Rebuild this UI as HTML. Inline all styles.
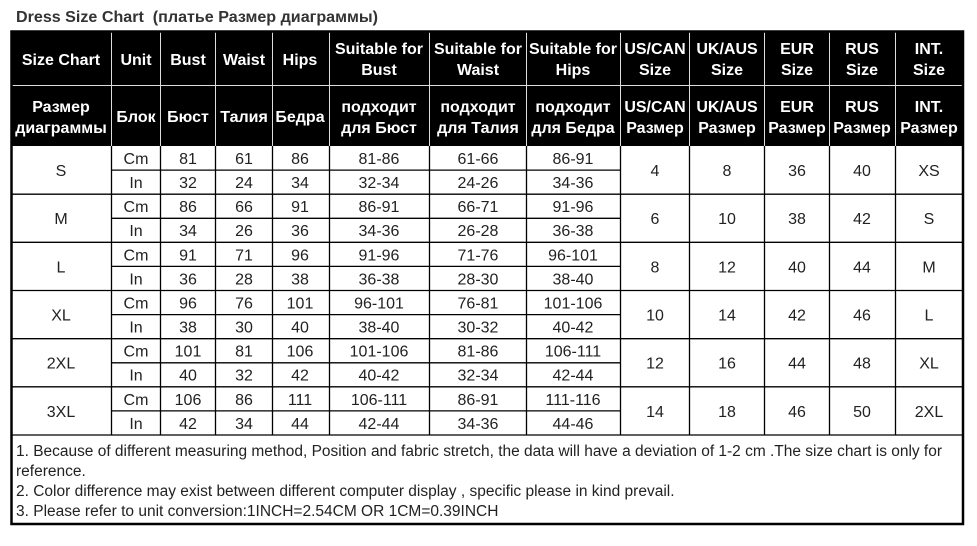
<!DOCTYPE html>
<html><head><meta charset="utf-8"><style>
body{margin:0;background:#fff;width:977px;height:541px;overflow:hidden}
svg text{font-family:"Liberation Sans",Arial,sans-serif}
</style></head><body>
<svg width="977" height="541" xmlns="http://www.w3.org/2000/svg">
<text x="16" y="22" font-size="16" font-weight="bold" fill="#333" textLength="362" lengthAdjust="spacingAndGlyphs">Dress Size Chart &#160;(платье Размер диаграммы)</text>
<rect x="11" y="31" width="952" height="115" fill="#000"/>
<g stroke="#ddd" stroke-width="1">
<line x1="11" y1="85.5" x2="963" y2="85.5"/>
<line x1="111.5" y1="31" x2="111.5" y2="146"/><line x1="160.5" y1="31" x2="160.5" y2="146"/>
<line x1="215.5" y1="31" x2="215.5" y2="146"/><line x1="272.5" y1="31" x2="272.5" y2="146"/>
<line x1="329.5" y1="31" x2="329.5" y2="146"/><line x1="429.5" y1="31" x2="429.5" y2="146"/>
<line x1="526.5" y1="31" x2="526.5" y2="146"/><line x1="620.5" y1="31" x2="620.5" y2="146"/>
<line x1="689.5" y1="31" x2="689.5" y2="146"/><line x1="764.5" y1="31" x2="764.5" y2="146"/>
<line x1="829.5" y1="31" x2="829.5" y2="146"/><line x1="895.5" y1="31" x2="895.5" y2="146"/>
</g>
<g fill="#fff" font-weight="bold" font-size="16" text-anchor="middle">
<text x="61" y="65">Size Chart</text><text x="136" y="65">Unit</text><text x="188" y="65">Bust</text><text x="244" y="65">Waist</text><text x="300" y="65">Hips</text>
<text x="379" y="54">Suitable for</text><text x="379" y="75">Bust</text>
<text x="478" y="54">Suitable for</text><text x="478" y="75">Waist</text>
<text x="573" y="54">Suitable for</text><text x="573" y="75">Hips</text>
<text x="655" y="54">US/CAN</text><text x="655" y="75">Size</text>
<text x="727" y="54">UK/AUS</text><text x="727" y="75">Size</text>
<text x="797" y="54">EUR</text><text x="797" y="75">Size</text>
<text x="862" y="54">RUS</text><text x="862" y="75">Size</text>
<text x="929" y="54">INT.</text><text x="929" y="75">Size</text>
<text x="61" y="112">Размер</text><text x="61" y="133">диаграммы</text>
<text x="136" y="122">Блок</text><text x="188" y="122">Бюст</text><text x="244" y="122">Талия</text><text x="300" y="122">Бедра</text>
<text x="379" y="112">подходит</text><text x="379" y="133">для Бюст</text>
<text x="478" y="112">подходит</text><text x="478" y="133">для Талия</text>
<text x="573" y="112">подходит</text><text x="573" y="133">для Бедра</text>
<text x="655" y="112">US/CAN</text><text x="655" y="133">Размер</text>
<text x="727" y="112">UK/AUS</text><text x="727" y="133">Размер</text>
<text x="797" y="112">EUR</text><text x="797" y="133">Размер</text>
<text x="862" y="112">RUS</text><text x="862" y="133">Размер</text>
<text x="929" y="112">INT.</text><text x="929" y="133">Размер</text>
</g>
<g stroke="#000" stroke-width="1.3">
<line x1="111.5" y1="146" x2="111.5" y2="435"/><line x1="160.5" y1="146" x2="160.5" y2="435"/>
<line x1="215.5" y1="146" x2="215.5" y2="435"/><line x1="272.5" y1="146" x2="272.5" y2="435"/>
<line x1="329.5" y1="146" x2="329.5" y2="435"/><line x1="429.5" y1="146" x2="429.5" y2="435"/>
<line x1="526.5" y1="146" x2="526.5" y2="435"/><line x1="620.5" y1="146" x2="620.5" y2="435"/>
<line x1="689.5" y1="146" x2="689.5" y2="435"/><line x1="764.5" y1="146" x2="764.5" y2="435"/>
<line x1="829.5" y1="146" x2="829.5" y2="435"/><line x1="895.5" y1="146" x2="895.5" y2="435"/>
<line x1="11" y1="194.2" x2="963" y2="194.2"/><line x1="11" y1="242.3" x2="963" y2="242.3"/>
<line x1="11" y1="290.5" x2="963" y2="290.5"/><line x1="11" y1="338.7" x2="963" y2="338.7"/>
<line x1="11" y1="386.8" x2="963" y2="386.8"/><line x1="11" y1="435" x2="963" y2="435"/>
<line x1="111" y1="170.1" x2="620" y2="170.1"/><line x1="111" y1="218.3" x2="620" y2="218.3"/>
<line x1="111" y1="266.4" x2="620" y2="266.4"/><line x1="111" y1="314.6" x2="620" y2="314.6"/>
<line x1="111" y1="362.8" x2="620" y2="362.8"/><line x1="111" y1="410.9" x2="620" y2="410.9"/>
</g>
<rect x="11.5" y="31.5" width="951.5" height="492.5" fill="none" stroke="#000" stroke-width="2.5"/>
<g font-size="16" fill="#222" text-anchor="middle" id="d"></g>
<g font-size="15.5" fill="#222">
<text x="16" y="456" textLength="926" lengthAdjust="spacingAndGlyphs">1. Because of different measuring method, Position and fabric stretch, the data will have a deviation of 1-2 cm .The size chart is only for</text>
<text x="16" y="476">reference.</text>
<text x="16" y="496">2. Color difference may exist between different computer display , specific please in kind prevail.</text>
<text x="16" y="516">3. Please refer to unit conversion:1INCH=2.54CM OR 1CM=0.39INCH</text>
</g>
</svg>
<script>
var rows=[["S","81","61","86","81-86","61-66","86-91","32","24","34","32-34","24-26","34-36","4","8","36","40","XS"],
["M","86","66","91","86-91","66-71","91-96","34","26","36","34-36","26-28","36-38","6","10","38","42","S"],
["L","91","71","96","91-96","71-76","96-101","36","28","38","36-38","28-30","38-40","8","12","40","44","M"],
["XL","96","76","101","96-101","76-81","101-106","38","30","40","38-40","30-32","40-42","10","14","42","46","L"],
["2XL","101","81","106","101-106","81-86","106-111","40","32","42","40-42","32-34","42-44","12","16","44","48","XL"],
["3XL","106","86","111","106-111","86-91","111-116","42","34","44","42-44","34-36","44-46","14","18","46","50","2XL"]];
var cx=[136,188,244,300,379,478,573],rx=[655,727,797,862,929],g=document.getElementById('d'),h='';
function t(x,y,s){h+='<text x="'+x+'" y="'+y+'">'+s+'</text>';}
rows.forEach(function(r,i){var top=146+i*48.17,y1=top+18,y2=top+42,ym=top+30;
t(61,ym,r[0]);t(136,y1,"Cm");t(136,y2,"In");
for(var k=0;k<6;k++){t(cx[k+1],y1,r[1+k]);t(cx[k+1],y2,r[7+k]);}
for(k=0;k<5;k++)t(rx[k],ym,r[13+k]);});
g.innerHTML=h;
</script>
</body></html>
